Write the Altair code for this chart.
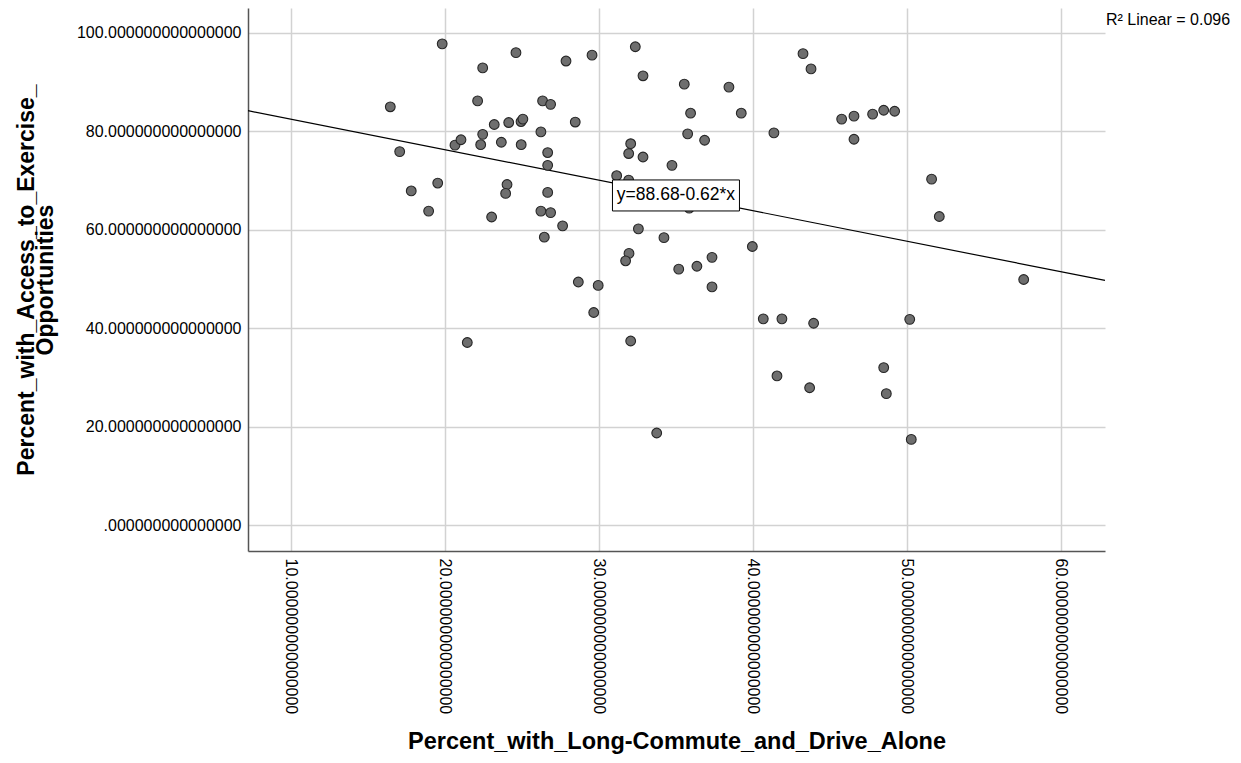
import altair as alt
import pandas as pd

# ---- data ----
x_vals = [16.45, 17.06, 17.81, 18.94, 19.53, 19.82, 20.65, 21.04, 21.45, 22.12,
          22.45, 22.32, 22.45, 23.03, 23.20, 23.66, 24.03, 23.94, 24.14, 24.61,
          24.94, 25.06, 24.95, 26.34, 26.86, 27.86, 29.55, 32.36, 32.86, 35.54,
          38.44, 43.25, 43.77, 28.46, 26.23, 35.95, 39.24, 35.76, 36.86, 41.36,
          26.67, 26.67, 32.06, 31.93, 32.86, 34.74, 31.15, 31.93, 35.86, 26.67,
          26.23, 26.86, 27.64, 26.45, 32.56, 34.22, 39.96, 31.95, 31.73, 35.18,
          36.36, 37.34, 37.34, 28.66, 29.95, 29.66, 40.67, 41.88, 43.94, 32.06,
          41.56, 43.68, 33.75, 45.76, 46.56, 47.77, 48.49, 49.20, 46.56, 51.60,
          52.10, 57.58, 50.18, 48.49, 48.66, 50.28]
y_vals = [85.0, 75.9, 67.9, 63.8, 69.5, 97.8, 77.2, 78.3, 37.1, 86.2,
          92.9, 77.3, 79.4, 62.6, 81.4, 77.8, 69.2, 67.4, 81.8, 96.0,
          82.0, 82.5, 77.3, 86.2, 85.5, 94.3, 95.5, 97.2, 91.3, 89.6,
          89.0, 95.8, 92.7, 81.9, 79.9, 83.7, 83.7, 79.5, 78.2, 79.7,
          75.7, 73.1, 77.5, 75.5, 74.8, 73.1, 71.0, 70.1, 64.4, 67.6,
          63.8, 63.5, 60.8, 58.5, 60.2, 58.4, 56.6, 55.2, 53.7, 52.0,
          52.6, 54.4, 48.4, 49.4, 48.7, 43.2, 41.9, 41.9, 41.0, 37.4,
          30.3, 27.9, 18.7, 82.5, 83.1, 83.5, 84.3, 84.1, 78.4, 70.3,
          62.7, 49.9, 41.8, 32.0, 26.7, 17.4]

INTERCEPT = 88.68
SLOPE = -0.62
R2 = 0.096
LABEL_X = 35.0

X_TICKS = [10, 20, 30, 40, 50, 60]
Y_TICKS = [0, 20, 40, 60, 80, 100]
X_DOMAIN = [7.21, 62.86]
Y_DOMAIN = [-5.28, 105.08]

X_TITLE = "Percent_with_Long-Commute_and_Drive_Alone"
Y_TITLE = ["Percent_with_Access_to_Exercise_", "Opportunities"]

FONT = "Liberation Sans"
LABEL_EXPR = "datum.value == 0 ? '.000000000000000' : format(datum.value, '.15f')"

points_df = pd.DataFrame({"x": x_vals, "y": y_vals})
line_df = pd.DataFrame({"x": X_DOMAIN, "y": [INTERCEPT + SLOPE * v for v in X_DOMAIN]})
eq_text = f"y={INTERCEPT:.2f}{SLOPE:+.2f}*x"
eq_df = pd.DataFrame({"x": [LABEL_X], "y": [INTERCEPT + SLOPE * LABEL_X], "t": [eq_text]})
r2_df = pd.DataFrame({"t": [f"R\u00b2 Linear = {R2:.3f}"]})

xscale = alt.Scale(domain=X_DOMAIN, nice=False, zero=False)
yscale = alt.Scale(domain=Y_DOMAIN, nice=False, zero=False)

x_axis = alt.Axis(
    values=X_TICKS, labelExpr=LABEL_EXPR, labelAngle=90, labelAlign="left",
    labelBaseline="middle", labelPadding=7, labelFontSize=16, labelFlush=False,
    labelOverlap=False, ticks=False, grid=True, title=X_TITLE,
    titleFontSize=23.5, titleFontWeight="bold", titlePadding=16,
)
y_axis = alt.Axis(
    values=Y_TICKS, labelExpr=LABEL_EXPR, labelPadding=7, labelFontSize=16,
    labelFlush=False, labelOverlap=False, ticks=False, grid=True, title=Y_TITLE,
    titleFontSize=23, titleFontWeight="bold", titlePadding=19, titleLineHeight=19,
)

base_x = alt.X("x:Q", scale=xscale, axis=x_axis)
base_y = alt.Y("y:Q", scale=yscale, axis=y_axis)

line = alt.Chart(line_df).mark_line(color="black", strokeWidth=1.2).encode(x=base_x, y=base_y)

pts = alt.Chart(points_df).mark_circle(
    size=95, color="#6e6e6e", stroke="#262626", strokeWidth=1.1, opacity=1
).encode(x="x:Q", y="y:Q")

box = alt.Chart(eq_df).mark_point(
    shape="M-1,-0.244L1,-0.244L1,0.244L-1,0.244Z", size=127 * 127, filled=True,
    fill="white", stroke="black", strokeWidth=1, opacity=1
).encode(x="x:Q", y="y:Q")

eq = alt.Chart(eq_df).mark_text(
    fontSize=17.5, font=FONT, color="black", align="center", baseline="middle"
).encode(x="x:Q", y="y:Q", text="t:N")

r2 = alt.Chart(r2_df).mark_text(
    fontSize=16, font=FONT, color="black", align="left", baseline="middle"
).encode(x=alt.value(858), y=alt.value(12), text="t:N")

chart = alt.layer(line, pts, box, eq, r2).properties(
    width=857, height=543,
    autosize=alt.AutoSizeParams(type="none"),
    padding={"left": 240, "top": 0, "right": 128, "bottom": 204},
).configure_view(strokeWidth=0).configure_axis(
    labelFont=FONT, titleFont=FONT, labelColor="black", titleColor="black",
    gridColor="#d2d2d2", gridWidth=1.5, domainColor="#555555", domainWidth=1.5,
)

chart.save("out.html", embed_options={"renderer": "svg", "actions": False})
